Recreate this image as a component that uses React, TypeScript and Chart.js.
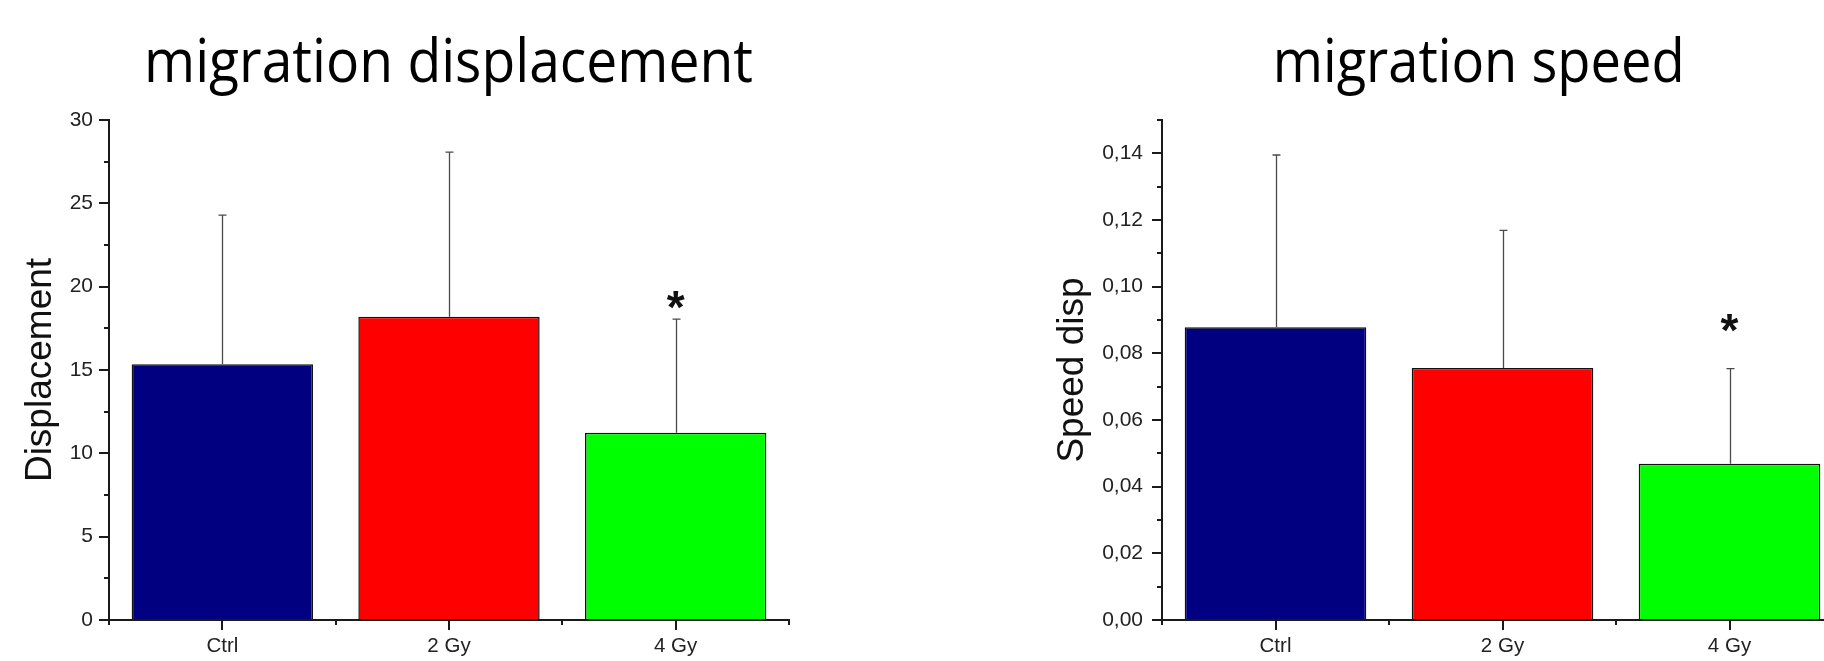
import React, { useEffect, useRef } from 'react';
import { Chart, registerables } from 'chart.js';

Chart.register(...registerables);

// ---------- data ----------
const CATEGORIES = ['Ctrl', '2 Gy', '4 Gy'];
const BAR_COLORS = ['#000080', '#FF0000', '#00FF00'];

const DISP_TITLE = 'migration displacement';
const DISP_AXIS = 'Displacement';
const DISP_MEAN = [15.34, 18.2, 11.23];
const DISP_ERR = [8.95, 9.87, 6.82];
const DISP_SIG: (number | null)[] = [null, null, 19.4];
const DISP_TICKS = [0, 5, 10, 15, 20, 25, 30];
const DISP_MINOR = [2.5, 7.5, 12.5, 17.5, 22.5, 27.5];

const SPEED_TITLE = 'migration speed';
const SPEED_AXIS = 'Speed disp';
const SPEED_MEAN = [0.0878, 0.0756, 0.0469];
const SPEED_ERR = [0.0517, 0.0413, 0.0285];
const SPEED_SIG: (number | null)[] = [null, null, 0.09];
const SPEED_TICKS = [0, 0.02, 0.04, 0.06, 0.08, 0.1, 0.12, 0.14];
const SPEED_MINOR = [0.01, 0.03, 0.05, 0.07, 0.09, 0.11, 0.13, 0.15];

// ---------- styles ----------
const AXIS_COLOR = '#1a1a1a';
const LABEL_COLOR = '#222';
const ARIAL = '"Liberation Sans", Arial, sans-serif';
const TITLE_FONT = '"Open Sans", "Noto Sans", sans-serif';

const decorPlugin = {
  id: 'decor',
  afterDatasetsDraw(chart: any, _args: any, opts: any) {
    const ctx = chart.ctx as CanvasRenderingContext2D;
    const meta = chart.getDatasetMeta(0);
    const y = chart.scales.y;
    const x = chart.scales.x;
    const ca = chart.chartArea;
    ctx.save();
    // error bars (upper only)
    ctx.strokeStyle = opts.errColor;
    ctx.lineWidth = opts.errWidth;
    meta.data.forEach((bar: any, i: number) => {
      const top = y.getPixelForValue(opts.mean[i] + opts.err[i]);
      const bx = Math.round(bar.x) + 0.5;
      ctx.beginPath();
      ctx.moveTo(bx, bar.y);
      ctx.lineTo(bx, top);
      ctx.moveTo(bx - opts.cap, top);
      ctx.lineTo(bx + opts.cap, top);
      ctx.stroke();
    });
    // significance stars
    ctx.fillStyle = '#111';
    ctx.font = `bold ${opts.starSize}px ${ARIAL}`;
    ctx.textAlign = 'center';
    ctx.textBaseline = 'alphabetic';
    opts.sig.forEach((v: number | null, i: number) => {
      if (v == null) return;
      const bar = meta.data[i];
      ctx.fillText('*', bar.x, y.getPixelForValue(v) + opts.starSize * 0.57);
    });
    // minor ticks
    ctx.strokeStyle = AXIS_COLOR;
    ctx.lineWidth = 2;
    ctx.beginPath();
    opts.minor.forEach((v: number) => {
      const py = Math.round(y.getPixelForValue(v));
      ctx.moveTo(ca.left - opts.minorLen, py);
      ctx.lineTo(ca.left, py);
    });
    const n = x.ticks.length;
    for (let i = 0; i <= n; i++) {
      const px = Math.round(ca.left + ((ca.right - ca.left) * i) / n);
      ctx.moveTo(px, ca.bottom);
      ctx.lineTo(px, ca.bottom + opts.minorLen);
    }
    ctx.stroke();
    ctx.restore();
  },
  afterDraw(chart: any, _args: any, opts: any) {
    const ctx = chart.ctx as CanvasRenderingContext2D;
    ctx.save();
    ctx.font = `${opts.titleSize}px ${TITLE_FONT}`;
    ctx.fillStyle = '#000';
    ctx.textAlign = 'left';
    ctx.textBaseline = 'alphabetic';
    const w = ctx.measureText(opts.title).width;
    ctx.translate(opts.titleX, opts.titleY);
    ctx.scale(opts.titleWidth / w, 1);
    ctx.fillText(opts.title, 0, 0);
    ctx.restore();
  },
};

function makeConfig(p: any): any {
  return {
    type: 'bar',
    data: {
      labels: CATEGORIES,
      datasets: [
        {
          data: p.mean,
          backgroundColor: BAR_COLORS,
          borderColor: '#111',
          borderWidth: 1.5,
          barPercentage: 0.8,
          categoryPercentage: 1,
        },
      ],
    },
    options: {
      responsive: false,
      animation: false,
      devicePixelRatio: 1,
      layout: { padding: { top: 120, right: p.padRight, bottom: 0, left: 0 } },
      plugins: {
        legend: { display: false },
        tooltip: { enabled: false },
        title: { display: false },
        decor: {
          mean: p.mean,
          err: p.err,
          sig: p.sig,
          minor: p.minor,
          minorLen: 5,
          cap: 4,
          errColor: '#4a4a4a',
          errWidth: 1.3,
          starSize: 46,
          title: p.title,
          titleX: p.titleX,
          titleY: 82,
          titleWidth: p.titleWidth,
          titleSize: 61,
        },
      },
      scales: {
        x: {
          type: 'category',
          offset: true,
          grid: {
            offset: false,
            drawOnChartArea: false,
            drawTicks: true,
            tickLength: 10,
            lineWidth: 2,
            color: AXIS_COLOR,
          },
          border: { display: true, color: AXIS_COLOR, width: 2 },
          ticks: {
            font: { family: ARIAL, size: 20.5 },
            color: LABEL_COLOR,
            padding: 4,
            maxRotation: 0,
            autoSkip: false,
          },
          afterFit: (s: any) => {
            s.height = 41;
          },
        },
        y: {
          type: 'linear',
          min: 0,
          max: p.max,
          grid: {
            drawOnChartArea: false,
            drawTicks: true,
            tickLength: 10,
            lineWidth: 2,
            color: AXIS_COLOR,
          },
          border: { display: true, color: AXIS_COLOR, width: 2 },
          ticks: {
            font: { family: ARIAL, size: 21 },
            color: LABEL_COLOR,
            padding: p.tickPad,
            callback: p.fmt,
          },
          afterBuildTicks: (s: any) => {
            s.ticks = p.ticks.map((v: number) => ({ value: v }));
          },
          afterFit: (s: any) => {
            s.width = p.yWidth;
          },
          title: {
            display: true,
            text: p.axis,
            font: { family: ARIAL, size: 37, lineHeight: 1 },
            color: '#111',
            padding: { top: p.axisTitlePad, bottom: 0 },
          },
        },
      },
    },
    plugins: [decorPlugin],
  };
}

function BarChart({ cfg, left, width, height }: { cfg: any; left: number; width: number; height: number }) {
  const ref = useRef<HTMLCanvasElement>(null);
  useEffect(() => {
    const chart = new Chart(ref.current as HTMLCanvasElement, makeConfig(cfg));
    return () => chart.destroy();
  }, []);
  return (
    <canvas
      ref={ref}
      width={width}
      height={height}
      style={{ position: 'absolute', left, top: 0, width, height }}
    />
  );
}

const dispCfg = {
  mean: DISP_MEAN,
  err: DISP_ERR,
  sig: DISP_SIG,
  minor: DISP_MINOR,
  ticks: DISP_TICKS,
  max: 30,
  fmt: (v: any) => String(v),
  title: DISP_TITLE,
  axis: DISP_AXIS,
  titleX: 144,
  titleWidth: 609,
  yWidth: 109,
  padRight: 107,
  tickPad: 6,
  axisTitlePad: 22,
};

const speedCfg = {
  mean: SPEED_MEAN,
  err: SPEED_ERR,
  sig: SPEED_SIG,
  minor: SPEED_MINOR,
  ticks: SPEED_TICKS,
  max: 0.15,
  fmt: (v: any) => Number(v).toFixed(2).replace('.', ','),
  title: SPEED_TITLE,
  axis: SPEED_AXIS,
  titleX: 272.7,
  titleWidth: 412,
  yWidth: 162,
  padRight: 117,
  tickPad: 9,
  axisTitlePad: 54.5,
};

export default function App() {
  return (
    <div
      style={{
        position: 'fixed',
        left: 0,
        top: 0,
        width: 1824,
        height: 661,
        overflow: 'hidden',
        background: '#fff',
      }}
    >
      <BarChart cfg={dispCfg} left={0} width={896} height={661} />
      <BarChart cfg={speedCfg} left={1000} width={960} height={661} />
    </div>
  );
}
